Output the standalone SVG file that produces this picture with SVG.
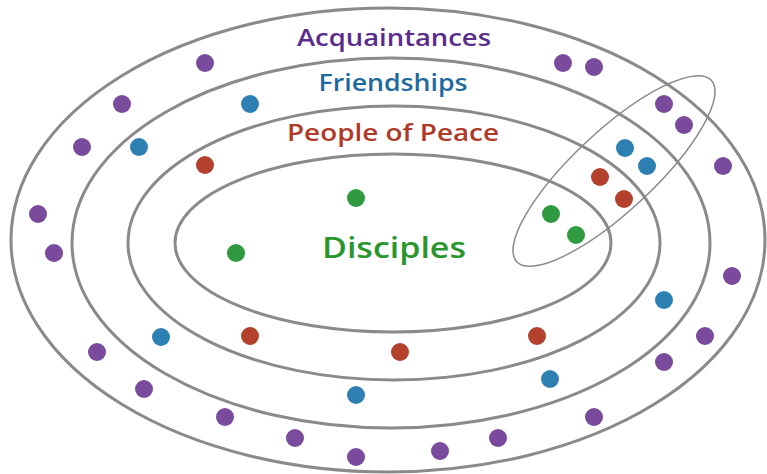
<svg xmlns="http://www.w3.org/2000/svg" width="767" height="474" viewBox="0 0 767 474">
<style>
.ring{fill:none;stroke:#8a8a8c;stroke-width:3}
.tilt{fill:none;stroke:#8a8a8c;stroke-width:1.5}
.lbl{font-family:"Open Sans","Liberation Sans",sans-serif;font-weight:600;text-anchor:middle}
.p{fill:#7a4a9c}
.b{fill:#2f80b2}
.r{fill:#b4402e}
.g{fill:#2f9a40}
</style>
<rect width="767" height="474" fill="#ffffff"/>
<g id="acquaintances">
<ellipse class="ring" cx="388" cy="240" rx="377" ry="232"/>
<text class="lbl" x="394" y="46" font-size="23" fill="#5a2d8c" textLength="194" lengthAdjust="spacingAndGlyphs">Acquaintances</text>
</g>
<g id="friendships">
<ellipse class="ring" cx="391" cy="243" rx="319" ry="185"/>
<text class="lbl" x="393" y="91" font-size="23" fill="#1f6a9c" textLength="149" lengthAdjust="spacingAndGlyphs">Friendships</text>
</g>
<g id="people-of-peace">
<ellipse class="ring" cx="394" cy="243" rx="266" ry="137"/>
<text class="lbl" x="393" y="141" font-size="23" fill="#b03a28" textLength="212" lengthAdjust="spacingAndGlyphs">People of Peace</text>
</g>
<g id="disciples">
<ellipse class="ring" cx="393" cy="243" rx="218" ry="89"/>
<text class="lbl" x="394" y="258" font-size="29" fill="#2a962e" textLength="144" lengthAdjust="spacingAndGlyphs">Disciples</text>
</g>
<g id="highlight">
<ellipse class="tilt" cx="614" cy="171" rx="133" ry="40" transform="rotate(-43 614 171)"/>
</g>
<g id="dots">
<circle class="p" cx="205" cy="63" r="9"/>
<circle class="p" cx="563" cy="63" r="9"/>
<circle class="p" cx="594" cy="67" r="9"/>
<circle class="p" cx="122" cy="104" r="9"/>
<circle class="p" cx="664" cy="104" r="9"/>
<circle class="p" cx="684" cy="125" r="9"/>
<circle class="p" cx="82" cy="147" r="9"/>
<circle class="p" cx="723" cy="166" r="9"/>
<circle class="p" cx="38" cy="214" r="9"/>
<circle class="p" cx="54" cy="253" r="9"/>
<circle class="p" cx="732" cy="276" r="9"/>
<circle class="p" cx="97" cy="352" r="9"/>
<circle class="p" cx="705" cy="336" r="9"/>
<circle class="p" cx="664" cy="362" r="9"/>
<circle class="p" cx="144" cy="389" r="9"/>
<circle class="p" cx="225" cy="417" r="9"/>
<circle class="p" cx="594" cy="417" r="9"/>
<circle class="p" cx="295" cy="438" r="9"/>
<circle class="p" cx="498" cy="438" r="9"/>
<circle class="p" cx="356" cy="457" r="9"/>
<circle class="p" cx="440" cy="451" r="9"/>
<circle class="b" cx="250" cy="104" r="9"/>
<circle class="b" cx="139" cy="147" r="9"/>
<circle class="b" cx="625" cy="148" r="9"/>
<circle class="b" cx="647" cy="166" r="9"/>
<circle class="b" cx="664" cy="300" r="9"/>
<circle class="b" cx="161" cy="337" r="9"/>
<circle class="b" cx="550" cy="379" r="9"/>
<circle class="b" cx="356" cy="395" r="9"/>
<circle class="r" cx="205" cy="165" r="9"/>
<circle class="r" cx="600" cy="177" r="9"/>
<circle class="r" cx="624" cy="199" r="9"/>
<circle class="r" cx="250" cy="336" r="9"/>
<circle class="r" cx="400" cy="352" r="9"/>
<circle class="r" cx="537" cy="336" r="9"/>
<circle class="g" cx="356" cy="198" r="9"/>
<circle class="g" cx="236" cy="253" r="9"/>
<circle class="g" cx="551" cy="214" r="9"/>
<circle class="g" cx="576" cy="235" r="9"/>
</g>
</svg>
